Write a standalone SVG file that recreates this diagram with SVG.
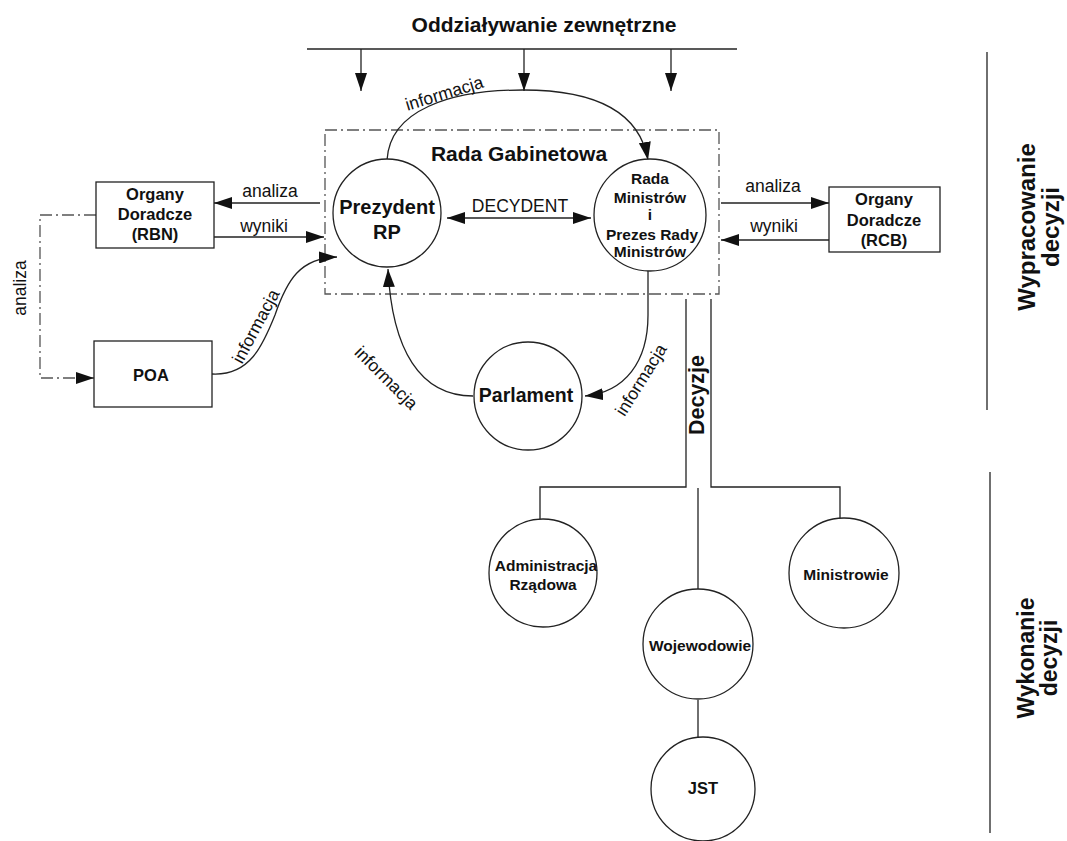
<svg xmlns="http://www.w3.org/2000/svg" width="1067" height="841" viewBox="0 0 1067 841">
<style>
text{font-family:"Liberation Sans",Arial,sans-serif;fill:#111}
.b{font-weight:bold}
.t21{font-size:21px}
.nt{font-size:15.5px;font-weight:bold}
.bt{font-size:16.5px;font-weight:bold}
.l{font-size:17.5px}
.n{fill:#fff;stroke:#222;stroke-width:1.3}
.c{fill:none;stroke:#222;stroke-width:1.3}
.dd{fill:none;stroke:#555;stroke-width:1.3;stroke-dasharray:12,4,2,4}
</style>
<defs>
<marker id="ah" markerUnits="userSpaceOnUse" markerWidth="19" markerHeight="12" refX="18" refY="6" orient="auto-start-reverse">
<path d="M0,0 L18,6 L0,12 z" fill="#111"/>
</marker>
</defs>
<rect width="1067" height="841" fill="#fff"/>

<g id="title">
<text class="b t21" x="544" y="32" text-anchor="middle">Oddziaływanie zewnętrzne</text>
</g>

<g id="rada-gabinetowa">
<rect x="325" y="130" width="394" height="164" class="dd"/>
<text class="b t21" x="519" y="161" text-anchor="middle">Rada Gabinetowa</text>
</g>

<g id="connectors">
<line x1="307" y1="49" x2="737" y2="49" class="c" stroke-width="2"/>
<line x1="361" y1="49" x2="361" y2="91" class="c" marker-end="url(#ah)"/>
<line x1="524" y1="49" x2="524" y2="91" class="c" marker-end="url(#ah)"/>
<line x1="671" y1="49" x2="671" y2="91" class="c" marker-end="url(#ah)"/>

<path d="M387,160 C390,110 450,90 523,90 C600,90 640,115 648,160" class="c" marker-end="url(#ah)"/>
<text class="l" transform="translate(446,99) rotate(-17)" text-anchor="middle">informacja</text>

<line x1="447" y1="218" x2="591" y2="218" class="c" marker-start="url(#ah)" marker-end="url(#ah)"/>
<text class="l" x="520" y="212" text-anchor="middle">DECYDENT</text>

<line x1="320" y1="203" x2="214" y2="203" class="c" marker-end="url(#ah)"/>
<text class="l" x="270" y="197" text-anchor="middle">analiza</text>
<line x1="214" y1="237" x2="324" y2="237" class="c" marker-end="url(#ah)"/>
<text class="l" x="264" y="232" text-anchor="middle">wyniki</text>

<line x1="721" y1="203" x2="829" y2="203" class="c" marker-end="url(#ah)"/>
<text class="l" x="773" y="192" text-anchor="middle">analiza</text>
<line x1="829" y1="240" x2="721" y2="240" class="c" marker-end="url(#ah)"/>
<text class="l" x="774" y="232" text-anchor="middle">wyniki</text>

<polyline points="96,215 40,215 40,378 94,378" class="dd" marker-end="url(#ah)"/>
<text class="l" transform="translate(26,288) rotate(-90)" text-anchor="middle">analiza</text>

<path d="M212,374 C250,376 263,345 275,315 C287,280 300,258 337,257" class="c" marker-end="url(#ah)"/>
<text class="l" transform="translate(261,329) rotate(-62)" text-anchor="middle">informacja</text>

<path d="M473,396 C420,396 392,350 388,269" class="c" marker-end="url(#ah)"/>
<text class="l" transform="translate(382,382) rotate(45)" text-anchor="middle">informacja</text>

<path d="M648,268 L648,315 C648,362 625,392 585,396" class="c" marker-end="url(#ah)"/>
<text class="l" transform="translate(646,383) rotate(-58)" text-anchor="middle">informacja</text>

<polyline points="686,299 686,487 540,487 540,520" class="c"/>
<polyline points="711,299 711,487 840,487 840,520" class="c"/>
<line x1="698" y1="488" x2="698" y2="589" class="c"/>
<text class="b" font-size="21.5" transform="translate(704,395) rotate(-90)" text-anchor="middle">Decyzje</text>
<line x1="698" y1="700" x2="698" y2="738" class="c"/>
</g>

<g id="prezydent">
<circle cx="387" cy="213" r="54" class="n"/>
<text class="b" font-size="20" x="387" y="214" text-anchor="middle">Prezydent</text>
<text class="b" font-size="20" x="387" y="239" text-anchor="middle">RP</text>
</g>

<g id="rada-ministrow">
<circle cx="650" cy="215" r="56" class="n"/>
<text class="nt" x="650" y="184" text-anchor="middle">Rada</text>
<text class="nt" x="650" y="203" text-anchor="middle">Ministrów</text>
<text class="nt" x="650" y="220" text-anchor="middle">i</text>
<text class="nt" x="652" y="240" text-anchor="middle">Prezes Rady</text>
<text class="nt" x="650" y="257" text-anchor="middle">Ministrów</text>
</g>

<g id="organy-rbn">
<rect x="96" y="182" width="118" height="66" class="n"/>
<text class="bt" x="155" y="200" text-anchor="middle">Organy</text>
<text class="bt" x="155" y="220" text-anchor="middle">Doradcze</text>
<text class="bt" x="155" y="240" text-anchor="middle">(RBN)</text>
</g>

<g id="organy-rcb">
<rect x="829" y="187" width="111" height="65" class="n"/>
<text class="bt" x="884" y="205" text-anchor="middle">Organy</text>
<text class="bt" x="884" y="226" text-anchor="middle">Doradcze</text>
<text class="bt" x="884" y="246" text-anchor="middle">(RCB)</text>
</g>

<g id="poa">
<rect x="94" y="341" width="118" height="66" class="n"/>
<text class="bt" x="151" y="381" text-anchor="middle">POA</text>
</g>

<g id="parlament">
<circle cx="528" cy="396" r="54" class="n"/>
<text class="b" font-size="19.5" x="526" y="402" text-anchor="middle">Parlament</text>
</g>

<g id="administracja">
<circle cx="543" cy="573" r="54" class="n"/>
<text class="nt" x="546" y="571" text-anchor="middle">Administracja</text>
<text class="nt" x="543" y="590" text-anchor="middle">Rządowa</text>
</g>

<g id="ministrowie">
<circle cx="844" cy="573" r="55" class="n"/>
<text class="nt" x="846" y="580" text-anchor="middle">Ministrowie</text>
</g>

<g id="wojewodowie">
<circle cx="698" cy="644" r="55" class="n"/>
<text class="nt" x="700" y="651" text-anchor="middle">Wojewodowie</text>
</g>

<g id="jst">
<circle cx="703" cy="789" r="52" class="n"/>
<text class="bt" x="703" y="794" text-anchor="middle">JST</text>
</g>

<g id="phases">
<line x1="987" y1="52" x2="987" y2="410" class="c" stroke-width="2"/>
<text class="b" font-size="24" transform="translate(1035,227) rotate(-90)" text-anchor="middle">Wypracowanie</text>
<text class="b" font-size="24" transform="translate(1059,227) rotate(-90)" text-anchor="middle">decyzji</text>
<line x1="990" y1="472" x2="990" y2="833" class="c" stroke-width="2"/>
<text class="b" font-size="23" transform="translate(1034,658) rotate(-90)" text-anchor="middle">Wykonanie</text>
<text class="b" font-size="23" transform="translate(1057,658) rotate(-90)" text-anchor="middle">decyzji</text>
</g>
</svg>
